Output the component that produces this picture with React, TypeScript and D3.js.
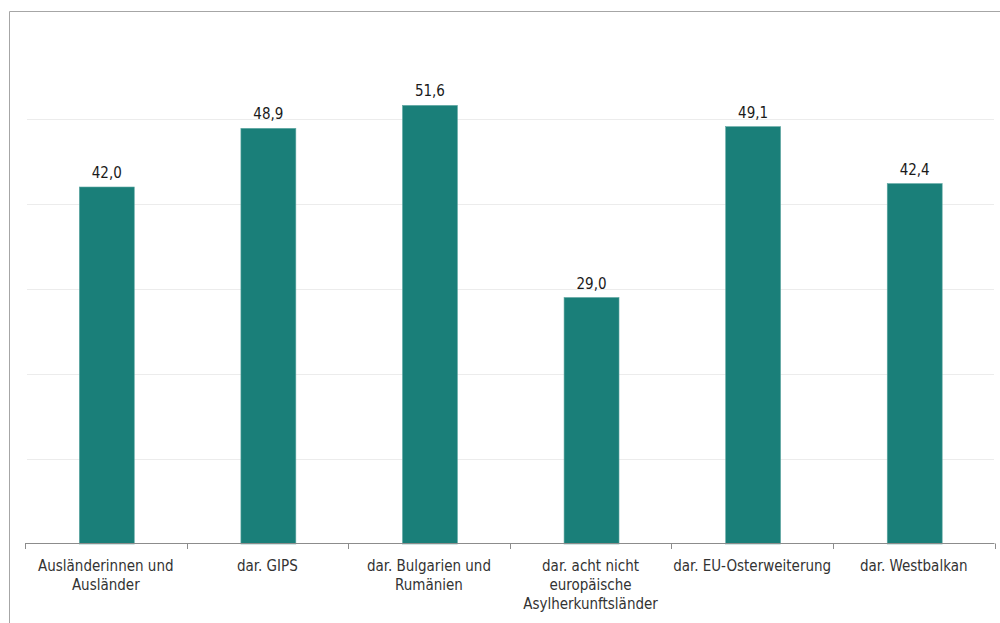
import React from "react";
import * as d3 from "d3";

const categories: string[][] = [
  ["Ausländerinnen und", "Ausländer"],
  ["dar. GIPS"],
  ["dar. Bulgarien und", "Rumänien"],
  ["dar. acht nicht", "europäische", "Asylherkunftsländer"],
  ["dar. EU-Osterweiterung"],
  ["dar. Westbalkan"],
];
const values: number[] = [42.0, 48.9, 51.6, 29.0, 49.1, 42.4];
const gridTicks: number[] = [10, 20, 30, 40, 50];

const W = 1000;
const H = 623;
const FONT = "'DejaVu Sans Condensed', 'DejaVu Sans', sans-serif";

export default function App() {
  const x = d3
    .scaleBand<number>()
    .domain(d3.range(categories.length))
    .range([25, 994.5])
    .paddingInner(0)
    .paddingOuter(0);
  const y = d3.scaleLinear().domain([0, 60]).range([544, 34]);
  const bw = x.bandwidth() * 0.34;
  const fmt = (v: number) => v.toFixed(1).replace(".", ",");

  const tickXs = d3.range(categories.length + 1).map((i) => 25 + i * x.step());

  return (
    <svg
      width={W}
      height={H}
      style={{ position: "absolute", left: 0, top: 0, background: "#fff" }}
    >
      <rect x={0} y={0} width={W} height={H} fill="#fff" />
      {/* outer border */}
      <line x1={9.5} y1={11.5} x2={W} y2={11.5} stroke="#a6a6a6" strokeWidth={1} />
      <line x1={9.5} y1={11.5} x2={9.5} y2={H} stroke="#a6a6a6" strokeWidth={1} />
      {/* gridlines */}
      {gridTicks.map((t) => (
        <line
          key={t}
          x1={27}
          x2={994}
          y1={Math.round(y(t)) + 0.5}
          y2={Math.round(y(t)) + 0.5}
          stroke="#ececec"
          strokeWidth={1}
        />
      ))}
      {/* bars */}
      {values.map((v, i) => {
        const cx = (x(i) as number) + x.bandwidth() / 2 + 1;
        return (
          <g key={i}>
            <rect
              x={cx - bw / 2}
              y={y(v)}
              width={bw}
              height={y(0) - y(v)}
              fill="#1a7f79"
              stroke="#5fa7a2"
              strokeWidth={0.6}
            />
            <text
              x={cx}
              y={y(v) - 9}
              textAnchor="middle"
              fontFamily={FONT}
              fontSize={15}
              fill="#1a1a1a"
            >
              {fmt(v)}
            </text>
          </g>
        );
      })}
      {/* axis */}
      <line x1={25} x2={994.5} y1={543.5} y2={543.5} stroke="#8c8c8c" strokeWidth={1} />
      {tickXs.map((tx, i) => (
        <line
          key={i}
          x1={Math.round(tx) + 0.5}
          x2={Math.round(tx) + 0.5}
          y1={543.5}
          y2={549}
          stroke="#8c8c8c"
          strokeWidth={1}
        />
      ))}
      {categories.map((lines, i) => {
        const cx = (x(i) as number) + x.bandwidth() / 2;
        return (
          <text
            key={i}
            textAnchor="middle"
            fontFamily={FONT}
            fontSize={15}
            fill="#333"
          >
            {lines.map((l, j) => (
              <tspan key={j} x={cx} y={571 + j * 19}>
                {l}
              </tspan>
            ))}
          </text>
        );
      })}
    </svg>
  );
}
